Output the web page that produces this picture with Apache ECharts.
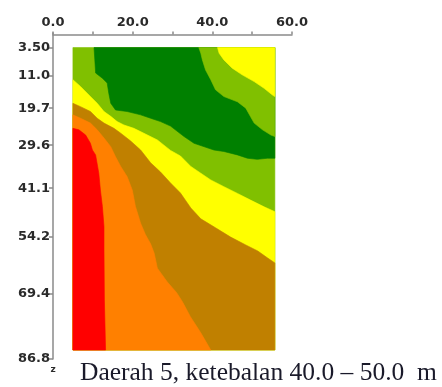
<!DOCTYPE html>
<html>
<head>
<meta charset="utf-8">
<script src="https://cdn.jsdelivr.net/npm/echarts@6/dist/echarts.min.js"></script>
<style>
  html, body { margin: 0; padding: 0; background: #fff; }
  #chart { width: 442px; height: 387px; }
</style>
</head>
<body>
<div id="chart"></div>
<script>
// Surveyed section: horizontal distance (m) and depth z (m)
const xRange = [5.0, 55.7];
const zRange = [3.5, 84.4];

// Depth tick values and their printed labels
const zTickValues = [3.5, 11.0, 19.7, 29.6, 41.1, 54.2, 69.4, 86.8];
const zTickLabels = ['3.50', '11.0', '19.7', '29.6', '41.1', '54.2', '69.4', '86.8'];

// Contour class colours
const cRed = '#ff0000';
const cOrange = '#ff8000';
const cBrown = '#c08000';
const cYellow = '#ffff00';
const cLightGreen = '#80c000';
const cDarkGreen = '#008000';

// Class boundaries as [distance, depth] vertices
const bYellowTop = [[41.3, 3.5], [41.7, 5.0], [42.9, 6.8], [45.0, 9.0], [47.5, 10.8],
  [50.5, 12.6], [53.0, 14.4], [55.1, 16.2], [55.7, 16.6]];
const bGreenUpper = [[36.6, 3.5], [37.1, 5.0], [37.5, 6.8], [38.3, 9.5], [39.6, 12.1],
  [40.8, 14.8], [42.9, 16.6], [46.3, 18.0], [48.4, 19.7], [49.6, 22.0], [50.5, 23.7],
  [52.6, 25.5], [54.7, 26.9], [55.7, 27.3]];
const bGreenLower = [[10.3, 3.5], [10.5, 6.8], [10.7, 10.3], [12.4, 11.7], [13.6, 13.0],
  [14.0, 15.7], [14.5, 18.4], [15.7, 20.2], [18.6, 20.6], [22.0, 21.5], [24.5, 22.4],
  [27.0, 23.3], [29.5, 24.5], [32.9, 27.3], [35.4, 29.1], [40.4, 30.9], [42.9, 31.3],
  [46.3, 32.2], [48.8, 33.1], [51.3, 33.4], [53.8, 33.1], [55.7, 33.1]];
const bYellowLower = [[5.0, 12.1], [6.9, 13.9], [9.4, 16.6], [11.1, 18.4], [12.8, 20.6],
  [14.5, 21.9], [16.1, 23.3], [17.8, 24.2], [20.3, 25.1], [22.8, 26.4], [26.2, 28.2],
  [29.5, 31.0], [32.0, 32.5], [34.6, 35.3], [37.1, 37.1], [39.6, 38.9], [42.9, 40.7],
  [46.3, 42.5], [49.6, 44.3], [53.0, 46.1], [55.7, 47.4]];
const bBrown = [[5.0, 18.4], [6.9, 19.3], [9.4, 20.6], [11.1, 22.4], [12.8, 23.7],
  [15.3, 25.1], [17.0, 26.4], [19.5, 28.5], [22.0, 30.9], [24.5, 34.3], [27.0, 36.8],
  [29.5, 39.7], [32.0, 42.4], [34.6, 46.4], [37.1, 49.3], [40.8, 51.7], [44.6, 54.2],
  [48.4, 56.3], [51.4, 57.9], [53.9, 59.8], [55.7, 61.1]];
const bOrange = [[5.0, 21.5], [6.9, 22.4], [9.4, 23.7], [11.1, 25.5], [12.8, 27.7],
  [14.5, 30.0], [15.7, 32.7], [17.0, 35.3], [18.6, 38.0], [19.9, 41.6], [20.7, 46.0],
  [22.0, 50.5], [23.2, 53.5], [24.5, 56.0], [25.4, 58.5], [26.2, 62.5], [28.7, 66.2],
  [31.0, 69.0], [32.5, 71.5], [34.5, 75.5], [37.1, 79.8], [39.6, 84.4]];
const bRed = [[5.0, 25.1], [6.5, 25.5], [8.2, 26.9], [9.4, 29.1], [9.9, 30.9],
  [10.7, 32.2], [11.5, 37.1], [11.9, 41.6], [12.4, 46.0], [12.8, 51.4], [12.8, 57.6],
  [12.9, 71.0], [13.2, 84.4]];

const x0 = xRange[0], x1 = xRange[1], z0 = zRange[0], z1 = zRange[1];
const topRight = [x1, z0];
const bottomRight = [x1, z1];
const bottomLeft = [x0, z1];

// Painted back to front, each layer covering the one below it
const layers = [
  { color: cLightGreen, pts: [[x0, z0], [x1, z0], [x1, z1], [x0, z1]] },
  { color: cDarkGreen, pts: bGreenLower.concat([topRight]) },
  { color: cLightGreen, pts: bGreenUpper.concat([topRight]) },
  { color: cYellow, pts: bYellowTop.concat([topRight]) },
  { color: cYellow, pts: bYellowLower.concat([bottomRight, bottomLeft]) },
  { color: cBrown, pts: bBrown.concat([bottomRight, bottomLeft]) },
  { color: cOrange, pts: bOrange.concat([bottomLeft]) },
  { color: cRed, pts: bRed.concat([bottomLeft]) }
];

const axisFont = {
  fontFamily: 'DejaVu Sans',
  fontWeight: 'bold',
  fontSize: 13,
  color: '#2a2a2a'
};
const axisLineStyle = { color: '#8a8a8a', width: 1.5 };

const chart = echarts.init(document.getElementById('chart'), null, { renderer: 'canvas' });
chart.setOption({
  animation: false,
  backgroundColor: '#ffffff',
  title: {
    text: 'Daerah 5, ketebalan 40.0 \u2013 50.0  m',
    left: 80,
    top: 360,
    padding: 0,
    textStyle: {
      fontFamily: 'Liberation Serif',
      fontWeight: 'normal',
      fontSize: 25.5,
      color: '#1a1a2a'
    }
  },
  grid: { left: 53, top: 33, width: 239, height: 326 },
  xAxis: {
    type: 'value',
    position: 'top',
    min: 0,
    max: 60,
    interval: 10,
    axisLine: { show: true, lineStyle: axisLineStyle },
    axisTick: { show: true, length: 3, lineStyle: axisLineStyle },
    splitLine: { show: false },
    axisLabel: Object.assign({
      margin: 4,
      formatter: function (v) { return v % 20 === 0 ? v.toFixed(1) : ''; }
    }, axisFont)
  },
  yAxis: {
    type: 'value',
    inverse: true,
    min: -0.4,
    max: 86.8,
    name: 'z',
    nameLocation: 'end',
    nameGap: 3,
    nameTextStyle: { fontFamily: 'DejaVu Sans', fontWeight: 'bold', fontSize: 9, color: '#2a2a2a', padding: [0, 0, 0, 0] },
    axisLine: { show: true, lineStyle: axisLineStyle },
    axisTick: { show: true, length: 4, customValues: zTickValues, lineStyle: axisLineStyle },
    splitLine: { show: false },
    axisLabel: Object.assign({
      margin: 3,
      customValues: zTickValues,
      showMinLabel: true,
      showMaxLabel: true,
      formatter: function (v) {
        const i = zTickValues.findIndex(function (t) { return Math.abs(t - v) < 1e-6; });
        return i >= 0 ? zTickLabels[i] : '';
      }
    }, axisFont)
  },
  series: [{
    type: 'custom',
    coordinateSystem: 'cartesian2d',
    silent: true,
    clip: true,
    data: layers.map(function (l, i) { return [l.pts[0][0], l.pts[0][1], i]; }),
    renderItem: function (params, api) {
      const layer = layers[params.dataIndex];
      return {
        type: 'polygon',
        shape: { points: layer.pts.map(function (p) { return api.coord(p); }) },
        style: { fill: layer.color, stroke: layer.color, lineWidth: 0.6 }
      };
    }
  }]
});
</script>
</body>
</html>
